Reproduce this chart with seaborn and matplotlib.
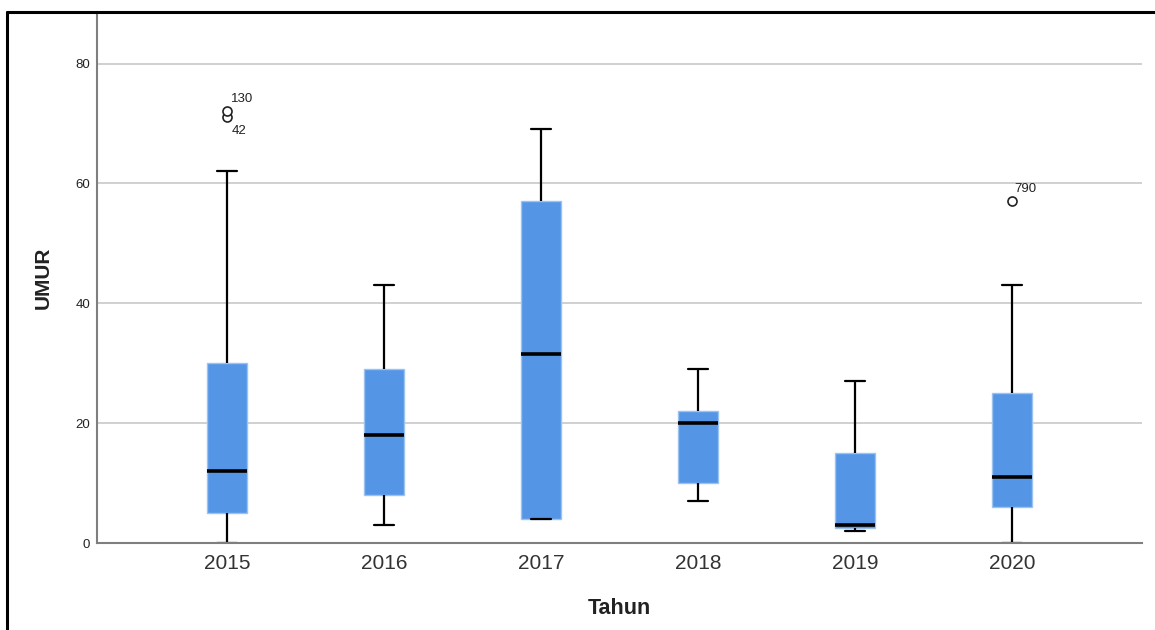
import matplotlib
matplotlib.use("Agg")
import matplotlib.pyplot as plt
from matplotlib.lines import Line2D
import seaborn as sns
import pandas as pd

# ---- data ----
years = ["2015", "2016", "2017", "2018", "2019", "2020"]
# observations chosen so that quartiles / whiskers / outliers match the picture
umur_2015 = [0, 0, 0, 5, 5, 12, 12, 30, 30, 30, 62, 71, 72]
umur_2016 = [3, 8, 18, 29, 43]
umur_2017 = [4, 4, 31.5, 57, 69]
umur_2018 = [7, 10, 20, 22, 29]
umur_2019 = [2, 2.5, 3, 15, 27]
umur_2020 = [0, 0, 6, 11, 11, 25, 25, 43, 57]
# outlier case labels
outlier_years = ["2015", "2015", "2020"]
outlier_values = [72, 71, 57]
outlier_labels = ["130", "42", "790"]

y_ticks = [0, 20, 40, 60, 80]

series = [umur_2015, umur_2016, umur_2017, umur_2018, umur_2019, umur_2020]
df = pd.DataFrame(
    [(yr, v) for yr, vals in zip(years, series) for v in vals],
    columns=["Tahun", "UMUR"],
)

sns.set_theme(style="white")
plt.rcParams["font.family"] = ["Arial", "Liberation Sans", "DejaVu Sans"]

fig = plt.figure(figsize=(11.55, 6.3), dpi=100)
ax = fig.add_axes([97 / 1155, 87 / 630, (1142 - 97) / 1155, (543 - 12) / 630])

box_color = "#5595E5"
sns.boxplot(
    data=df, x="Tahun", y="UMUR", order=years, ax=ax,
    color=box_color, width=0.255, whis=1.5, saturation=1,
    linecolor="black",
    boxprops=dict(facecolor=box_color, edgecolor="#9cc2f0", linewidth=1.0),
    medianprops=dict(color="black", linewidth=2.6),
    whiskerprops=dict(color="black", linewidth=1.6),
    capprops=dict(color="black", linewidth=1.6),
    flierprops=dict(marker="o", markersize=6.5, markerfacecolor="white",
                    markeredgecolor="#222222", markeredgewidth=1.2),
)

# outlier case labels
for yr, val, lab in zip(outlier_years, outlier_values, outlier_labels):
    xi = years.index(yr)
    dx = 2 if lab == "790" else 3
    dy = -10 if lab == "42" else 9
    ax.annotate(lab, (xi, val), xytext=(dx, dy), textcoords="offset points",
                fontsize=9.5, color="#222222", va="center", ha="left")

ax.set_xlim(-0.83, 5.83)
ax.set_ylim(0, 88.6)
ax.set_yticks(y_ticks)
ax.set_yticklabels([str(t) for t in y_ticks], fontsize=9.5, color="#222222")
ax.tick_params(axis="x", labelsize=15, colors="#333333", length=0, pad=8)
ax.tick_params(axis="y", length=0, pad=5)
ax.yaxis.grid(True, color="#d0d0d0", linewidth=1.4)
ax.set_axisbelow(True)
for s in ["top", "right"]:
    ax.spines[s].set_visible(False)
for s in ["left", "bottom"]:
    ax.spines[s].set_color("#7f7f7f")
    ax.spines[s].set_linewidth(1.5)

ax.set_xlabel("Tahun", fontsize=15.5, fontweight="bold", color="#222222", labelpad=18)
ax.set_ylabel("UMUR", fontsize=15, fontweight="bold", color="#222222", labelpad=16)

# outer frame (top and left border of the SPSS chart area)
fig.add_artist(Line2D([7 / 1155, 1.0], [1 - 12 / 630, 1 - 12 / 630],
                      transform=fig.transFigure, color="black", linewidth=2.2))
fig.add_artist(Line2D([7 / 1155, 7 / 1155], [0, 1 - 12 / 630],
                      transform=fig.transFigure, color="black", linewidth=2.2))

fig.savefig("out.png", dpi=100, facecolor="white")
